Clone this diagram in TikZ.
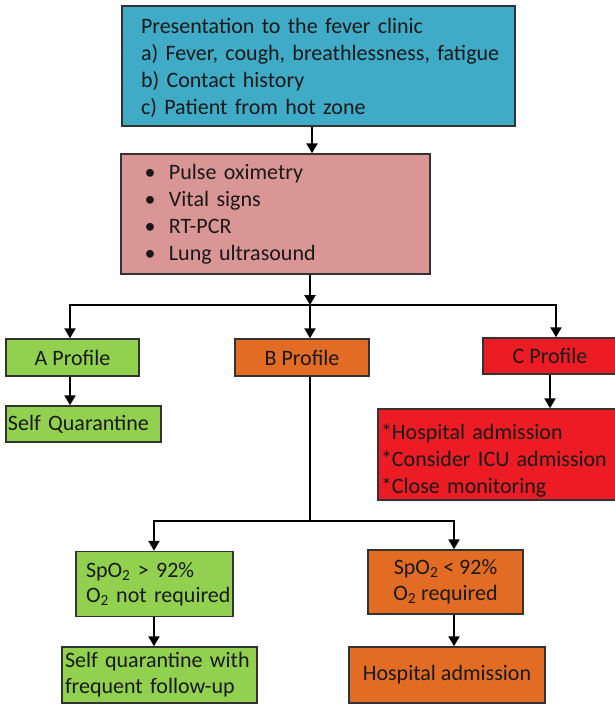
\documentclass[tikz,border=0pt]{standalone}
\usepackage{fontspec}
\setmainfont{Carlito}
\usetikzlibrary{arrows.meta}
\definecolor{cblue}{RGB}{64,171,199}
\definecolor{cpink}{RGB}{217,150,148}
\definecolor{cgreen}{RGB}{146,208,80}
\definecolor{corange}{RGB}{227,108,36}
\definecolor{cred}{RGB}{237,28,36}
\tikzset{
  box/.style={draw=black!80, line width=1.5pt, inner ysep=0pt, text=black!90,
    font=\fontsize{22}{27}\selectfont},
  ln/.style={line width=2.4pt, draw=black},
  arr/.style={ln, -{Triangle[length=10pt,width=11pt]}},
  arrb/.style={ln, {Triangle[length=10pt,width=11pt]}-{Triangle[length=10pt,width=11pt]}},
}
\begin{document}
\begin{tikzpicture}[x=1pt,y=-1pt]
\useasboundingbox (0,0) rectangle (615,706);

% boxes
\node[box, fill=cblue, minimum width=393pt, minimum height=120pt, text width=355pt,
      inner xsep=19pt, align=left, text height=22pt, text depth=86pt] (pres) at (318.5,66)
  {Presentation to the fever clinic\\
   \mbox{a) Fever, cough, breathlessness, fatigue}\\
   b) Contact history\\
   c) Patient from hot zone};

\node[box, fill=cpink, minimum width=309pt, minimum height=120pt, text width=289pt,
      inner xsep=10pt, align=left] (pink) at (275.5,214)
  {\makebox[38pt][c]{\textbullet}Pulse oximetry\\
   \makebox[38pt][c]{\textbullet}Vital signs\\
   \makebox[38pt][c]{\textbullet}RT-PCR\\
   \makebox[38pt][c]{\textbullet}Lung ultrasound};

\node[box, fill=cgreen, minimum width=133pt, minimum height=37pt] (apro) at (72.5,357.5) {A Profile};
\node[box, fill=corange, minimum width=134pt, minimum height=37pt] (bpro) at (302,357.5) {B Profile};
\node[box, fill=cred, minimum width=134pt, minimum height=36pt] (cpro) at (550,356) {C Profile};

\node[box, fill=cgreen, minimum width=155pt, minimum height=36pt, text width=151pt,
      inner xsep=2pt, align=left] (sq) at (83.5,424) {Self Quarantine};

\node[box, fill=cred, minimum width=240pt, minimum height=91pt, text width=234pt,
      inner xsep=3pt, align=left, text height=28pt, text depth=59pt] (cadm) at (498,454.5)
  {*Hospital admission\\ {*}Consider ICU admission\\ {*}Close monitoring};

\node[box, fill=cgreen, minimum width=157pt, minimum height=65pt, text width=137pt,
      inner xsep=10pt, align=left, font=\fontsize{22}{25}\selectfont] (spoa) at (154.5,584)
  {SpO\textsubscript{2} > 92\%\\ \mbox{O\textsubscript{2} not required}};

\node[box, fill=corange, minimum width=155pt, minimum height=64pt, align=center,
      font=\fontsize{22}{26}\selectfont] (spob) at (445.5,582)
  {SpO\textsubscript{2} < 92\%\\ O\textsubscript{2} required};

\node[box, fill=cgreen, minimum width=195pt, minimum height=56pt, text width=189pt,
      inner xsep=3pt, align=left, font=\fontsize{22}{26}\selectfont] (sqf) at (159.5,675)
  {Self quarantine with\\ frequent follow-up};

\node[box, fill=corange, minimum width=196pt, minimum height=56pt] (hosp) at (447,675)
  {Hospital admission};

% connector coordinates
\coordinate (x1) at (312,0);
\coordinate (j) at (310,305);
\coordinate (ja) at (70,305);
\coordinate (jc) at (556,305);
\coordinate (xc) at (550,0);
\coordinate (j2) at (310,521);
\coordinate (jl) at (154,521);
\coordinate (jr) at (454,521);

% connectors
\draw[arr] (pres.south -| x1) -- (pink.north -| x1);
\draw[arr] (pink.south -| j) -- (j);
\draw[arrb] (apro.north -| ja) -- (ja) -- (jc) -- (cpro.north -| jc);
\draw[arr] (j) -- (bpro.north -| j);
\draw[arr] (apro.south -| ja) -- (sq.north -| ja);
\draw[arr] (cpro.south -| xc) -- (cadm.north -| xc);
\draw[ln] (bpro.south -| j2) -- (j2);
\draw[arrb] (spoa.north -| jl) -- (jl) -- (jr) -- (spob.north -| jr);
\draw[arr] (spoa.south -| jl) -- (sqf.north -| jl);
\draw[arr] (spob.south -| jr) -- (hosp.north -| jr);
\end{tikzpicture}
\end{document}
